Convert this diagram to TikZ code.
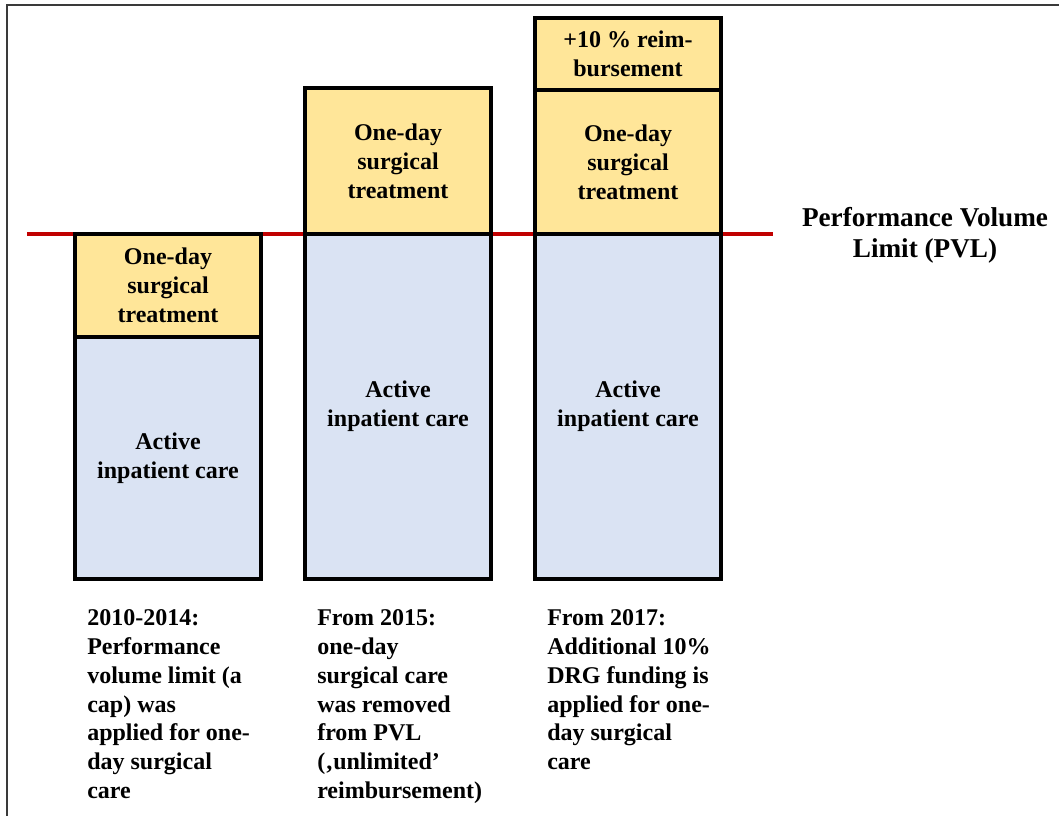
\documentclass[tikz,border=0pt]{standalone}
\usepackage{fontspec}
\setmainfont{Liberation Serif}
\usepackage{tikz}
\usetikzlibrary{positioning}

\definecolor{pvlred}{HTML}{C00000}
\definecolor{surgyellow}{HTML}{FFE699}
\definecolor{careblue}{HTML}{DAE3F3}
\definecolor{framegray}{HTML}{3A3A3A}

\begin{document}
\begin{tikzpicture}[x=0.75pt,y=-0.75pt,
    font=\fontsize{18}{21.7}\selectfont\bfseries,
    bar/.style={draw=black,line width=2.4pt,minimum width=139.5pt,inner sep=0pt,outer sep=0pt,align=center},
    surgery/.style={bar,fill=surgyellow},
    inpatient/.style={bar,fill=careblue},
    note/.style={anchor=north west,align=left,inner sep=0pt}]
    \useasboundingbox (0,0) rectangle (1059,816);
    % frame
    \draw[framegray,line width=1.6pt] (7,816) -- (7,5) -- (1059,5);

    % PVL line
    \coordinate (pvlstart) at (27,234);
    \coordinate (pvlend) at (773,234);
    \draw[pvlred,line width=2.6pt] (pvlstart) -- (pvlend);
    \node[align=center,font=\fontsize{20.4}{23.5}\selectfont\bfseries] (pvl) at (925,235) {Performance Volume\\Limit (PVL)};

    % 2010-2014
    \node[inpatient,minimum height=181.5pt,anchor=south] (care1) at (168,579) {Active\\inpatient care};
    \node[surgery,minimum height=77.25pt,above=0pt of care1] (surg1) {One-day\\surgical\\treatment};
    \node[note] (note1) at (87,609) {2010-2014:\\Performance\\volume limit (a\\cap) was\\applied for one-\\day surgical\\care};

    % from 2015
    \node[inpatient,minimum height=258.75pt,anchor=south] (care2) at (398,579) {Active\\inpatient care};
    \node[surgery,minimum height=109.5pt,above=0pt of care2] (surg2) {One-day\\surgical\\treatment};
    \node[note] (note2) at (317,609) {From 2015:\\one-day\\surgical care\\was removed\\from PVL\\(‚unlimited’\\reimbursement)};

    % from 2017
    \node[inpatient,minimum height=258.75pt,anchor=south] (care3) at (628,579) {Active\\inpatient care};
    \node[surgery,minimum height=108pt,above=0pt of care3] (surg3) {One-day\\surgical\\treatment};
    \node[surgery,minimum height=54pt,above=0pt of surg3] (bonus3) {+10 \% reim-\\bursement};
    \node[note] (note3) at (547,609) {From 2017:\\Additional 10\%\\DRG funding is\\applied for one-\\day surgical\\care};
\end{tikzpicture}
\end{document}
